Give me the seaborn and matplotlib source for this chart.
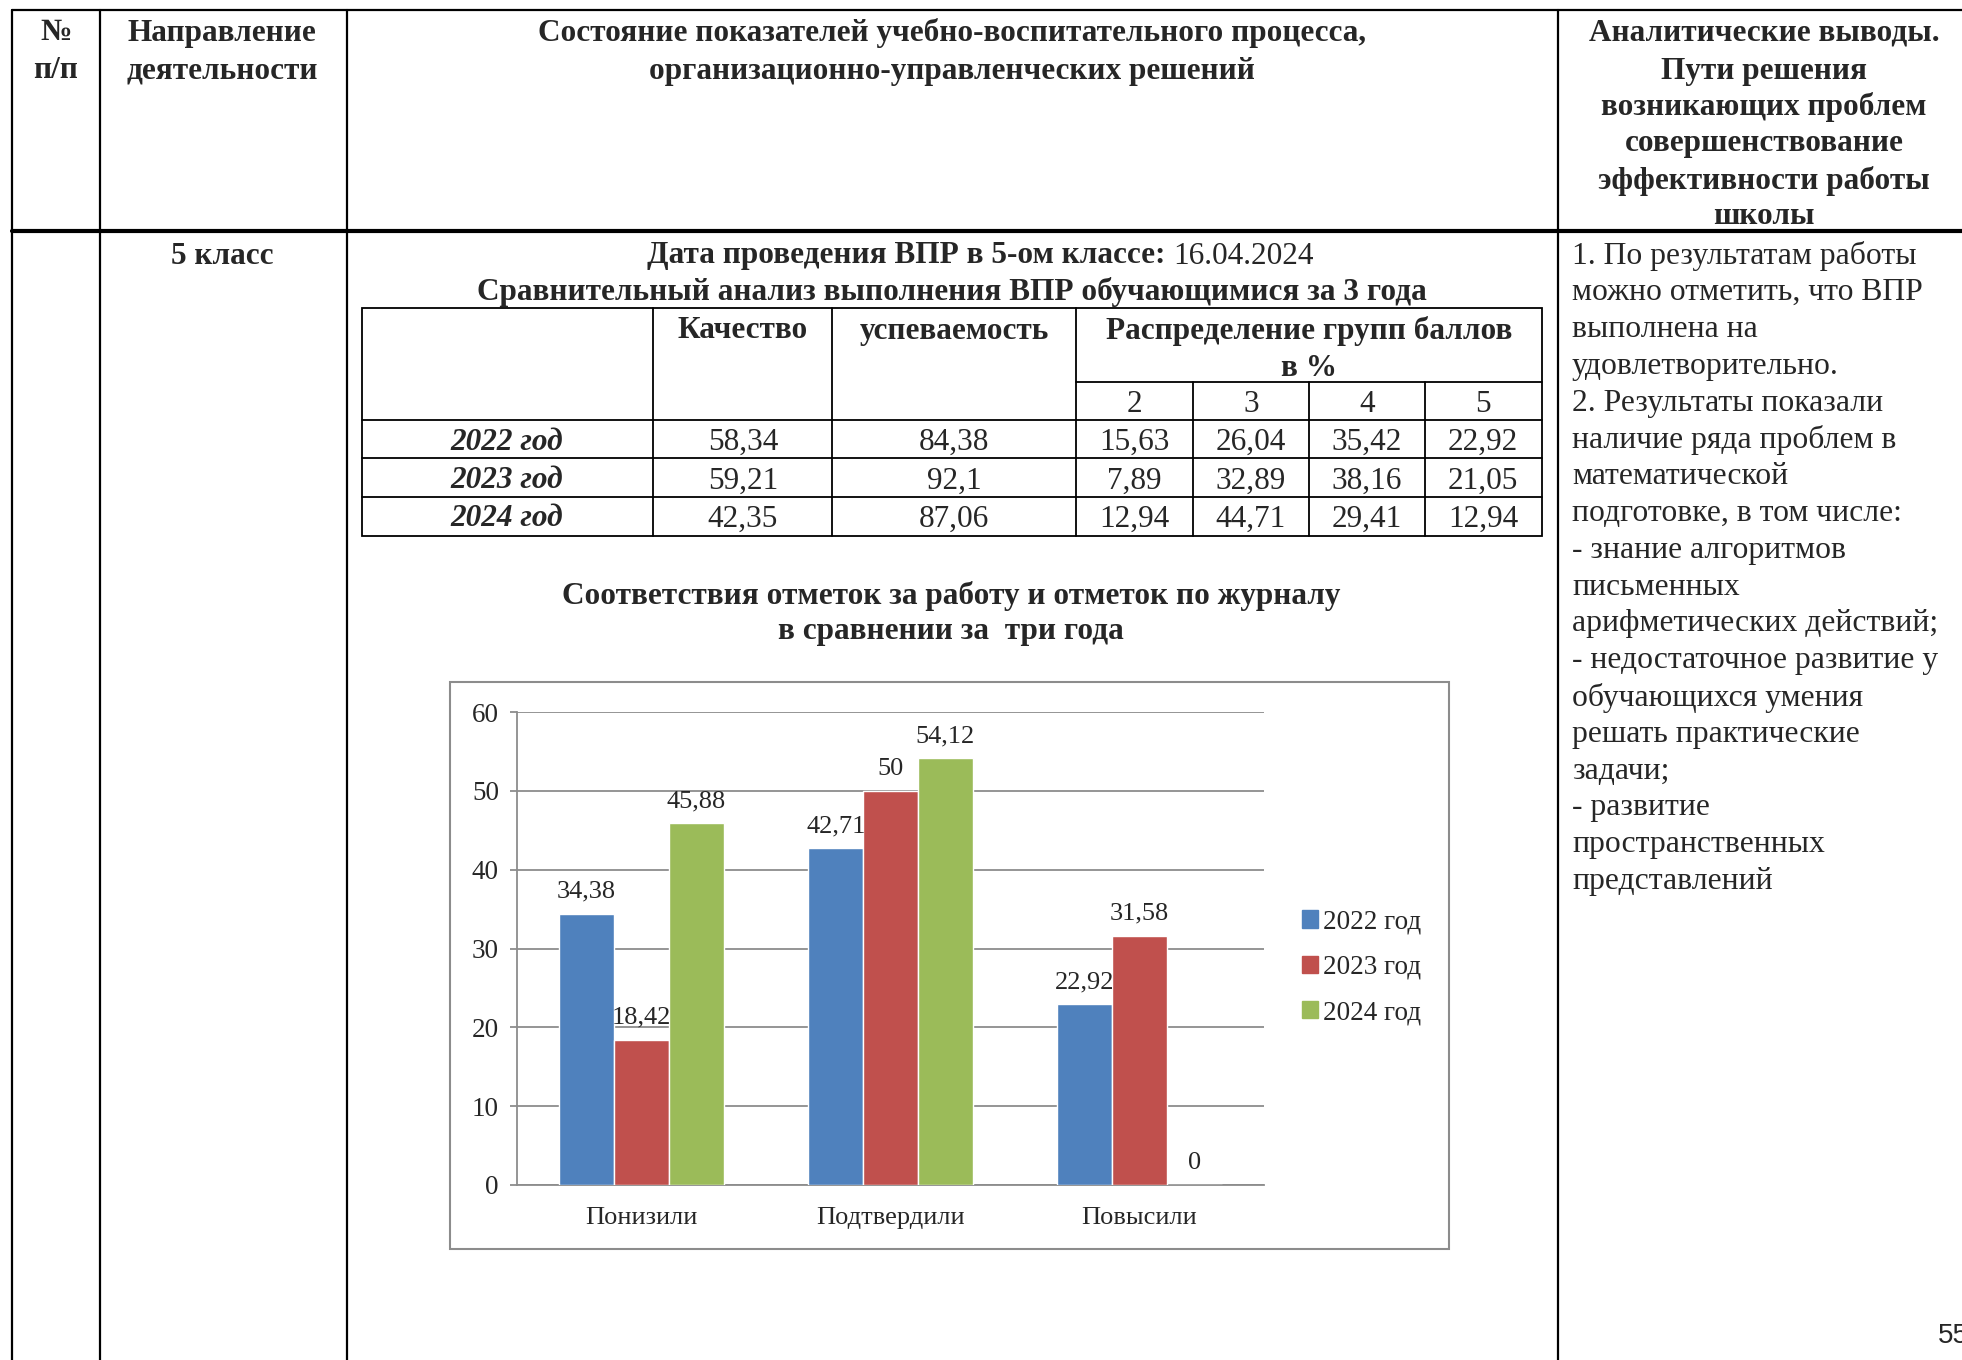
import matplotlib
matplotlib.use("Agg")
import matplotlib.pyplot as plt
from matplotlib.patches import Patch, Rectangle
import pandas as pd
import seaborn as sns

# chart data
categories = ["Понизили", "Подтвердили", "Повысили"]
years = ["2022 год", "2023 год", "2024 год"]
values_2022 = [34.38, 42.71, 22.92]
values_2023 = [18.42, 50, 31.58]
values_2024 = [45.88, 54.12, 0]
colors = ["#4F81BD", "#C0504D", "#9BBB59"]

# table data
table_years = ["2022 год", "2023 год", "2024 год"]
quality = ["58,34", "59,21", "42,35"]
progress = ["84,38", "92,1", "87,06"]
score_groups = ["2", "3", "4", "5"]
score_share = [
    ["15,63", "26,04", "35,42", "22,92"],
    ["7,89", "32,89", "38,16", "21,05"],
    ["12,94", "44,71", "29,41", "12,94"],
]

header_cols = [
    ["№", "п/п"],
    ["Направление", "деятельности"],
    ["Состояние показателей учебно-воспитательного процесса,",
     "организационно-управленческих решений"],
    ["Аналитические выводы.", "Пути решения", "возникающих проблем",
     "совершенствование", "эффективности работы", "школы"],
]
conclusions = [
    "1. По результатам работы",
    "можно отметить, что ВПР",
    "выполнена на",
    "удовлетворительно.",
    "2. Результаты показали",
    "наличие ряда проблем в",
    "математической",
    "подготовке, в том числе:",
    "- знание алгоритмов",
    "письменных",
    "арифметических действий;",
    "- недостаточное развитие у",
    "обучающихся умения",
    "решать практические",
    "задачи;",
    "- развитие",
    "пространственных",
    "представлений",
]

sns.set_theme(style="white")
plt.rcParams["font.family"] = ["Liberation Serif", "DejaVu Serif"]

W, H = 1962, 1360
DY = 3  # small downward shift so glyphs sit like in the source page
fig = plt.figure(figsize=(W / 100, H / 100), dpi=100)
page = fig.add_axes([0, 0, 1, 1])
page.set_xlim(0, W)
page.set_ylim(H, 0)
page.axis("off")


def put(x, y, s, **kw):
    kw.setdefault("ha", "center")
    kw.setdefault("fontsize", 22.5)
    return page.text(x, y + DY, s, va="center", **kw)


# outer table
lw = 1.6
for x in [12, 100, 347, 1558]:
    page.plot([x, x], [10, H], color="black", lw=lw)
page.plot([12, W], [10, 10], color="black", lw=lw)
page.plot([12, W], [231, 231], color="black", lw=3)

hx = [56, 222, 952, 1764]
hy = [30, 68, 104, 141, 178, 214]
for x, lines in zip(hx, header_cols):
    for y, line in zip(hy, lines):
        put(x, y, line, fontweight="bold")

put(222, 253, "5 класс", fontweight="bold")

# title with mixed weight
renderer = fig.canvas.get_renderer()
t1 = put(647, 253, "Дата проведения ВПР в 5-ом классе: ", ha="left", fontweight="bold")
w1 = t1.get_window_extent(renderer).width
put(647 + w1, 253, "16.04.2024", ha="left")
put(952, 289, "Сравнительный анализ выполнения ВПР обучающимися за 3 года", fontweight="bold")

# right column
for i, line in enumerate(conclusions):
    put(1572, 253 + i * 36.8, line, ha="left", fontsize=22.8)

# inner table grid
tl = 1.3
page.add_patch(Rectangle((362, 308), 1542 - 362, 536 - 308, fill=False, ec="black", lw=tl))
for x in [653, 832, 1076]:
    page.plot([x, x], [308, 536], color="black", lw=tl)
for x in [1193, 1309, 1425]:
    page.plot([x, x], [382, 536], color="black", lw=tl)
page.plot([1076, 1542], [382, 382], color="black", lw=tl)
for y in [420, 458, 497]:
    page.plot([362, 1542], [y, y], color="black", lw=tl)

put(743, 328, "Качество", fontweight="bold")
put(954, 328, "успеваемость", fontweight="bold")
put(1309, 328, "Распределение групп баллов", fontweight="bold")
put(1309, 365, "в %", fontweight="bold")
score_x = [1134, 1251, 1367, 1483]
for x, g in zip(score_x, score_groups):
    put(x, 402, g)
row_y = [439, 478, 516]
for i, y in enumerate(row_y):
    put(507, y, table_years[i], fontweight="bold", fontstyle="italic")
    put(743, y, quality[i])
    put(954, y, progress[i])
    for x, v in zip(score_x, score_share[i]):
        put(x, y, v)

# chart title
put(951, 593, "Соответствия отметок за работу и отметок по журналу", fontweight="bold")
put(951, 629, "в сравнении за  три года", fontweight="bold")

# chart frame
page.add_patch(Rectangle((450, 682), 1449 - 450, 1249 - 682, fill=False, ec="#8C8C8C", lw=1.5))

page.text(1938, 1336, "55", ha="left", va="center", fontsize=20, family="Liberation Sans")

# bar chart
ax = fig.add_axes([517 / W, (H - 1185) / H, (1264 - 517) / W, (1185 - 712) / H])
df = pd.DataFrame({
    "category": categories * 3,
    "year": [years[0]] * 3 + [years[1]] * 3 + [years[2]] * 3,
    "value": values_2022 + values_2023 + values_2024,
})
sns.barplot(data=df, x="category", y="value", hue="year", palette=colors,
            width=0.66, saturation=1, ax=ax, legend=False, errorbar=None, zorder=3)

ax.set_xlim(-0.5, 2.5)
ax.set_ylim(0, 60)
ax.set_yticks(range(0, 61, 10))
ax.set_xlabel("")
ax.set_ylabel("")
ax.set_facecolor("none")
ax.yaxis.grid(True, color="#8C8C8C", lw=1.3, zorder=0)
ax.set_axisbelow(True)
for s in ["top", "right"]:
    ax.spines[s].set_visible(False)
for s in ["left", "bottom"]:
    ax.spines[s].set_color("#8C8C8C")
    ax.spines[s].set_linewidth(1.3)
ax.set_xticks([-0.5, 0.5, 1.5, 2.5], minor=True)
ax.tick_params(axis="x", which="minor", length=7, width=1.3, color="#8C8C8C", direction="out")
ax.tick_params(axis="x", which="major", length=0, pad=16, labelsize=19)
ax.tick_params(axis="y", length=5, width=1.3, color="#8C8C8C", direction="out", pad=8,
               labelsize=19.5, left=True)

for container in ax.containers:
    ax.bar_label(container, labels=[f"{v:g}".replace(".", ",") for v in container.datavalues],
                 padding=8, fontsize=19)

handles = [Patch(color=c, label=y) for c, y in zip(colors, years)]
ax.legend(handles=handles, loc="center left", bbox_to_anchor=(1.036, 0.46), frameon=False,
          fontsize=19.5, handlelength=0.6, handleheight=0.6, handletextpad=0.2,
          labelspacing=0.75, borderaxespad=0)

fig.savefig("out.png", dpi=100)
